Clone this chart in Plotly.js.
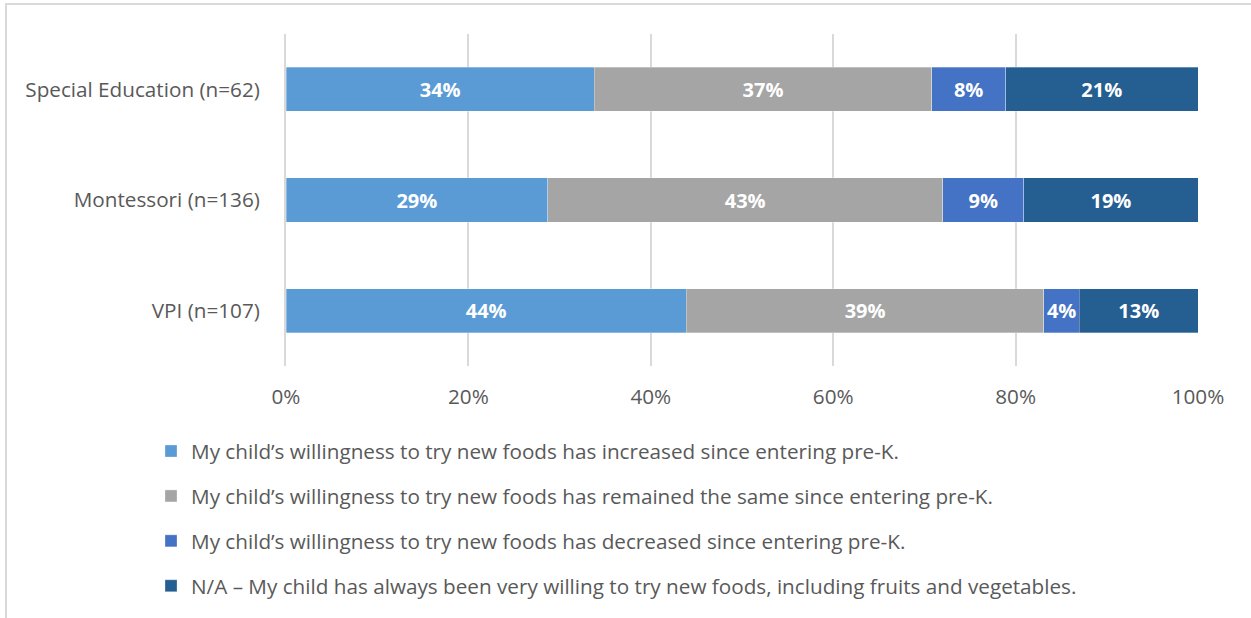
<!DOCTYPE html>
<html>
<head>
<meta charset="utf-8">
<script src="https://cdn.plot.ly/plotly-3.0.1.min.js"></script>
<style>
  html, body { margin: 0; padding: 0; background: #fff; }
  #wrap { position: relative; width: 1251px; height: 618px; }
  #frame { position: absolute; left: 5px; top: 3px; width: 1246px; height: 615px;
           border-top: 2px solid #d9d9d9; border-left: 2px solid #d9d9d9; box-sizing: border-box; pointer-events: none; z-index: 5; }
  #chart { position: absolute; left: 0; top: 0; width: 1251px; height: 618px; }
</style>
</head>
<body>
<div id="wrap">
  <div id="chart"></div>
  <div id="frame"></div>
</div>
<script>
const categories = ['VPI (n=107)', 'Montessori (n=136)', 'Special Education (n=62)'];
const seriesNames = [
  'My child\u2019s willingness to try new foods has increased since entering pre-K.',
  'My child\u2019s willingness to try new foods has remained the same since entering pre-K.',
  'My child\u2019s willingness to try new foods has decreased since entering pre-K.',
  'N/A \u2013 My child has always been very willing to try new foods, including fruits and vegetables.'
];
const increased = [43.9, 28.7, 33.8];
const remained = [39.2, 43.3, 37.0];
const decreased = [3.9, 8.9, 8.1];
const notApplicable = [13.0, 19.1, 21.1];
const seriesValues = [increased, remained, decreased, notApplicable];
const colors = ['#5B9BD5', '#A5A5A5', '#4472C4', '#255E91'];
const tickVals = [0, 20, 40, 60, 80, 100];
const tickText = ['0%', '20%', '40%', '60%', '80%', '100%'];

const FONT = 'Open Sans, Liberation Sans, sans-serif';
const FS = 20.7;

const traces = seriesValues.map((vals, i) => ({
  type: 'bar',
  orientation: 'h',
  name: seriesNames[i],
  y: categories,
  x: vals,
  legendgroup: 'g' + i,
  marker: { color: colors[i], line: { color: 'rgba(255,255,255,0.6)', width: 0.5 } },
  text: vals.map(v => Math.round(v) + '%'),
  texttemplate: '%{text}',
  textposition: 'inside',
  insidetextanchor: 'middle',
  textangle: 0,
  constraintext: 'none',
  textfont: { family: FONT, size: 20, color: '#ffffff', weight: 'bold' },
  hoverinfo: 'skip'
}));

const layout = {
  width: 1251,
  height: 618,
  margin: { l: 286, r: 53, t: 34, b: 252, autoexpand: false },
  paper_bgcolor: '#ffffff',
  plot_bgcolor: '#ffffff',
  barmode: 'stack',
  bargap: 0.6,
  showlegend: true,
  uniformtext: { minsize: 20, mode: 'show' },
  font: { family: FONT, size: FS, color: '#595959' },
  xaxis: {
    range: [0, 100],
    tickvals: tickVals,
    ticktext: tickText,
    showgrid: true,
    gridcolor: '#d9d9d9',
    gridwidth: 2,
    zeroline: false,
    showline: false,
    ticks: '',
    ticklabelstandoff: 16,
    tickfont: { family: FONT, size: FS, color: '#595959' },
    automargin: false,
    fixedrange: true
  },
  yaxis: {
    type: 'category',
    showgrid: false,
    zeroline: false,
    showline: true,
    linecolor: '#d9d9d9',
    linewidth: 2,
    ticks: '',
    ticklabelstandoff: 20,
    tickfont: { family: FONT, size: FS, color: '#595959' },
    automargin: false,
    fixedrange: true
  },
  legend: {
    orientation: 'v',
    x: -0.148,
    xanchor: 'left',
    y: -0.196,
    yanchor: 'top',
    traceorder: 'grouped',
    tracegroupgap: 15,
    itemwidth: 30,
    font: { family: FONT, size: FS, color: '#595959' },
    bgcolor: 'rgba(0,0,0,0)'
  }
};

Plotly.newPlot('chart', traces, layout, { displayModeBar: false, staticPlot: true });
</script>
</body>
</html>
